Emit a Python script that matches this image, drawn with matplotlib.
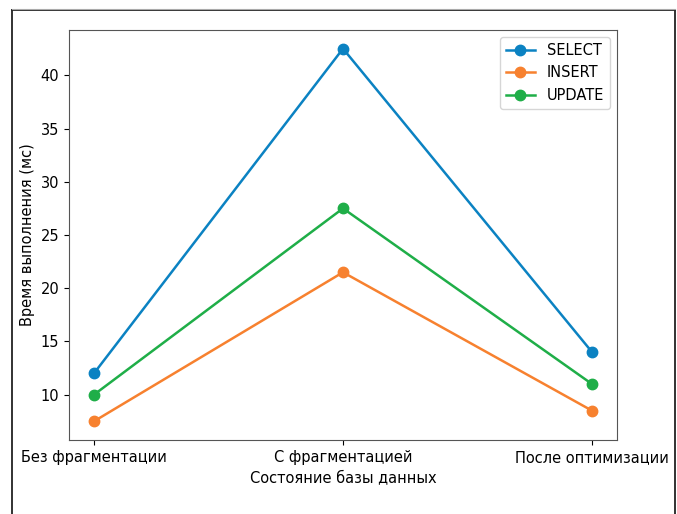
import matplotlib
matplotlib.use("Agg")
import matplotlib.pyplot as plt
from matplotlib.lines import Line2D

categories = ["Без фрагментации", "С фрагментацией", "После оптимизации"]
select_vals = [12, 42.5, 14]
insert_vals = [7.5, 21.5, 8.5]
update_vals = [10, 27.5, 11]
series_names = ["SELECT", "INSERT", "UPDATE"]
colors = ["#0b82c2", "#f7812f", "#1fae48"]

plt.rcParams['font.family'] = ['DejaVu Sans']

fig = plt.figure(figsize=(6.77, 5.14), dpi=100)
W, H = 677, 514
ax = fig.add_axes([69 / W, 1 - 440 / H, (617 - 69) / W, (440 - 30) / H])

x = list(range(len(categories)))
for vals, name, c in zip([select_vals, insert_vals, update_vals], series_names, colors):
    ax.plot(x, vals, marker='o', color=c, label=name, linewidth=1.8, markersize=7.5)

ax.set_xticks(x)
ax.set_xticklabels(categories, fontsize=10.5)
ax.tick_params(axis='y', labelsize=10.5)
ax.set_xlabel("Состояние базы данных", fontsize=10.5)
ax.set_ylabel("Время выполнения (мс)", fontsize=10.5)
ax.legend(loc='upper right', fontsize=10.5)
for s in ax.spines.values():
    s.set_color('#555555')

# screenshot frame
fig.add_artist(Line2D([11.5 / W, 11.5 / W], [0, 1 - 10 / H], transform=fig.transFigure,
                      color='#222222', linewidth=1.3))
fig.add_artist(Line2D([674.5 / W, 674.5 / W], [0, 1 - 10 / H], transform=fig.transFigure,
                      color='#222222', linewidth=1.3))
fig.add_artist(Line2D([11.5 / W, 674.5 / W], [1 - 10 / H, 1 - 10 / H], transform=fig.transFigure,
                      color='#222222', linewidth=1.3))
fig.add_artist(Line2D([11.5 / W, 674.5 / W], [1 - 8.8 / H, 1 - 8.8 / H], transform=fig.transFigure,
                      color='#aaaaaa', linewidth=0.8))

fig.savefig("out.png", dpi=100)
